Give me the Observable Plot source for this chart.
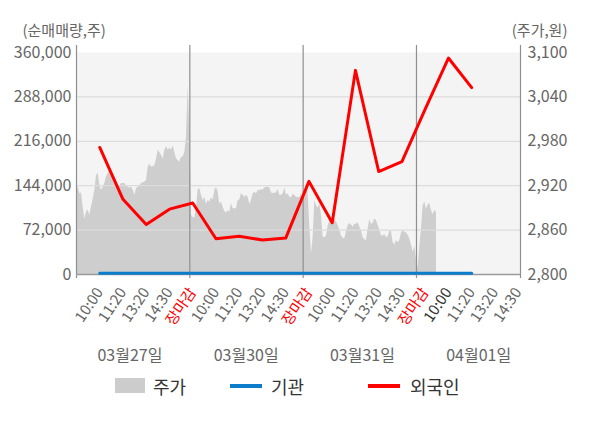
<!DOCTYPE html>
<html><head><meta charset="utf-8">
<script src="https://cdn.jsdelivr.net/npm/d3@7"></script>
<script src="https://cdn.jsdelivr.net/npm/@observablehq/plot@0.6"></script>
<style>
body{margin:0;background:#fff;font-family:"Noto Sans CJK KR",sans-serif;}
#wrap{position:relative;width:600px;height:428px;overflow:hidden;}
#chart svg{display:block;}
.lg{position:absolute;font-size:18px;color:#333;line-height:24px;height:24px;}
.sw{position:absolute;}
</style></head><body>
<div id="wrap"><div id="chart"></div>
<div class="sw" style="left:115px;top:378px;width:30px;height:15px;background:#cccccc"></div>
<div class="lg" style="left:153px;top:374px">주가</div>
<div class="sw" style="left:230px;top:384px;width:32px;height:4px;background:#0b7dca"></div>
<div class="lg" style="left:271px;top:374px">기관</div>
<div class="sw" style="left:368px;top:384px;width:32px;height:4px;background:#ff0000"></div>
<div class="lg" style="left:410px;top:374px">외국인</div>
</div>
<script>
// x-axis category labels (4 trading days)
const timeLabels = ["10:00","11:20","13:20","14:30","장마감",
                    "10:00","11:20","13:20","14:30","장마감",
                    "10:00","11:20","13:20","14:30","장마감",
                    "10:00","11:20","13:20","14:30"];
const dates = ["03월27일","03월30일","03월31일","04월01일"];
// net buying volume (shares) at each label slot
const foreign = [206000,122000,81000,106000,116000,58000,62000,56000,59000,
                 151000,84000,331000,167000,183000,268000,351000,303000];
const institution = [2200,2200,2200,2200,2200,2200,2200,2200,2200,
                     2200,2200,2200,2200,2200,2200,2200,2200];
// intraday price (won), sampled evenly through each session
const priceDay1 = [2918,2918,2909,2910,2891,2875,2884,2887,2880,2891,
                   2902,2914,2933,2937,2920,2914,2918,2923,2932,2936,
                   2941,2936,2932,2927,2923,2918,2920,2923,2923,2923,
                   2920,2918,2917,2918,2914,2907,2916,2918,2920,2923,
                   2924,2925,2927,2945,2949,2945,2946,2947,2956,2968,
                   2965,2961,2956,2968,2973,2968,2971,2968,2974,2965,
                   2956,2954,2952,2958,2959,2965,2986,3055];
const priceDay2 = [2992,2880,2877,2876,2890,2915,2916,2907,2900,2904,
                   2895,2900,2898,2904,2900,2914,2918,2911,2895,2898,
                   2891,2885,2883,2886,2884,2896,2889,2889,2889,2900,
                   2901,2909,2907,2904,2907,2904,2895,2900,2909,2911,
                   2909,2914,2913,2915,2914,2917,2918,2918,2917,2910,
                   2909,2910,2910,2915,2907,2907,2909,2917,2907,2909,
                   2904,2904,2908,2907,2904,2904,2904,2909];
const priceDay3 = [2900,2905,2922,2910,2865,2828,2850,2900,2893,2890,
                   2896,2880,2850,2850,2852,2866,2872,2874,2876,2875,
                   2871,2866,2860,2852,2849,2848,2858,2866,2869,2867,
                   2864,2868,2868,2870,2864,2859,2850,2847,2846,2862,
                   2874,2868,2869,2875,2873,2866,2860,2852,2852,2854,
                   2850,2851,2858,2858,2843,2840,2846,2843,2846,2856,
                   2859,2857,2856,2853,2848,2840,2830,2838];
const priceDay4 = [2820,2808,2838,2862,2893,2898,2888,2894,2896,2886,2881,2886,2884];
const volTicks = [0,72000,144000,216000,288000,360000];

const MIN_DAY = 390, SLOT = 80, SAMPLES = 68, XMAX = 1528;
const PRICE_MIN = 2800, PRICE_MAX = 3100, VOL_MAX = 360000;
const k = VOL_MAX / (PRICE_MAX - PRICE_MIN);
const fmt = d3.format(",");

const priceData = [priceDay1, priceDay2, priceDay3, priceDay4].flatMap((arr, d) =>
  arr.map((p, i) => ({t: d * MIN_DAY + i * MIN_DAY / SAMPLES, v: (p - PRICE_MIN) * k})));
const slotX = i => (i + 1) * SLOT;
const foreignData = foreign.map((v, i) => ({t: slotX(i), v}));
const instData = institution.map((v, i) => ({t: slotX(i), v}));
const tickData = timeLabels.map((label, i) => ({t: slotX(i), label, i}));
const dateData = dates.map((label, d) => ({t: slotX(1.3 + 5 * d), label}));
const dividers = [0, MIN_DAY, 2 * MIN_DAY, 3 * MIN_DAY, XMAX];

const chart = Plot.plot({
  width: 600, height: 368,
  marginTop: 52, marginBottom: 94, marginLeft: 76, marginRight: 80,
  style: {fontFamily: "'Noto Sans CJK KR', sans-serif", fontSize: "15px", color: "#666", background: "#fff", overflow: "visible"},
  x: {domain: [0, XMAX], axis: null},
  y: {domain: [0, VOL_MAX], axis: null},
  marks: [
    Plot.frame({fill: "#f4f4f4", stroke: null}),
    Plot.areaY(priceData, {x: "t", y: "v", fill: "#cecece"}),
    Plot.ruleY(volTicks.slice(1, -1), {stroke: "#dcdcdc", strokeWidth: 1.2}),
    Plot.ruleX(dividers, {stroke: "#8f8f8f", insetTop: -7, insetBottom: -4, strokeWidth: 1.2}),
    Plot.ruleY([0], {stroke: "#9a9a9a", strokeWidth: 1.5}),
    Plot.line(instData, {x: "t", y: "v", stroke: "#0b7dca", strokeWidth: 3}),
    Plot.line(foreignData, {x: "t", y: "v", stroke: "#ff0000", strokeWidth: 3}),
    Plot.axisY({anchor: "left", ticks: volTicks, tickSize: 0, tickPadding: 5, tickFormat: fmt, label: null, fontSize: 16}),
    Plot.axisY({anchor: "right", ticks: volTicks, tickSize: 0, tickPadding: 7, tickFormat: v => fmt(PRICE_MIN + v / k), label: null, fontSize: 16}),
    Plot.text(tickData, {x: "t", text: "label", frameAnchor: "bottom", lineAnchor: "middle", dy: 15, rotate: -56, textAnchor: "end", fontSize: 15,
      fill: d => d.label === "장마감" ? "#ff0000" : (d.i === 15 ? "#333" : "#666")}),
    Plot.text(dateData, {x: "t", text: "label", frameAnchor: "bottom", lineAnchor: "middle", dy: 81, fill: "#666", fontSize: 16}),
    Plot.text(["(순매매량,주)"], {text: d => d, frameAnchor: "top-left", lineAnchor: "middle", dx: -54, dy: -21, textAnchor: "start", fill: "#666"}),
    Plot.text(["(주가,원)"], {text: d => d, frameAnchor: "top-right", lineAnchor: "middle", dx: 47, dy: -21, textAnchor: "end", fill: "#666"})
  ]
});
document.getElementById("chart").appendChild(chart);
</script>
</body></html>
